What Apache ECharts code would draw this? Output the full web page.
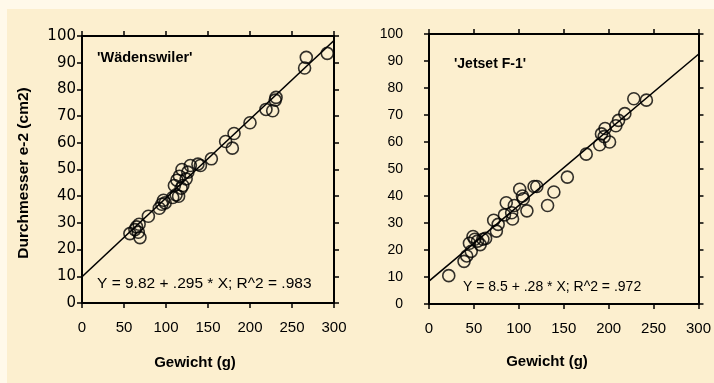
<!DOCTYPE html>
<html>
<head>
<meta charset="utf-8">
<script src="https://cdn.jsdelivr.net/npm/echarts@6/dist/echarts.min.js"></script>
<style>
html,body{margin:0;padding:0;background:#FFF9EA;}
#bg{position:absolute;left:7px;top:9px;width:707px;height:374px;background:#FCEFCF;}
#chart{position:absolute;left:0;top:0;width:714px;height:383px;}
</style>
</head>
<body>
<div id="bg"></div>
<div id="chart"></div>
<script>
// ---- Data ----
const xTicks = [0, 50, 100, 150, 200, 250, 300];
const yTicks = [0, 10, 20, 30, 40, 50, 60, 70, 80, 90, 100];

const wadenswilerGewicht = [57,63,65,68,67,69,79,92,95,97,99,108,112,115,110,113,116,118,120,119,124,126,129,138,141,154,171,179,181,200,219,227,230,231,265,267,292];
const wadenswilerDurchm  = [26,27.5,28.5,29.5,26.5,24.5,32.5,35.5,37,38.5,37.5,39.5,40.5,40,44,46,47.5,43,44,50,46.5,49,51.5,52,51.5,54,60.5,58,63.5,67.5,72.5,72,76,77,88,92,93.5];

const jetsetGewicht = [22,39,42,47,45,49,51,54,57,60,63,72,75,77,84,86,92,93,95,101,104,105,109,117,120,132,139,154,175,190,192,195,196,201,208,211,218,228,242];
const jetsetDurchm  = [10.5,15.8,17.8,19.5,22.5,25,24,23.3,22,24,24.3,31,27,29.5,33,37.5,33.8,31.5,36.5,42.5,40,39,34.5,43.5,43.5,36.5,41.5,47,55.5,59,63,62,65,60,66,68,70.5,76,75.5];

const wadenswilerFit = {a: 9.82, b: 0.295};
const jetsetFit = {a: 8.5, b: 0.28};

const fitRange = [0, 300];

// ---- Build ----
const pts = (xs, ys) => xs.map((x, i) => [x, ys[i]]);
const fitLine = f => fitRange.map(x => [x, f.a + f.b * x]);

const FONT = "'Liberation Sans', Arial, sans-serif";
const axisLine = {show: true, onZero: false, lineStyle: {color: '#000', width: 2}};
const axisTick = {show: true, length: 5, lineStyle: {color: '#000', width: 1.5}};

function xAx(grid, pos, labels) {
  return {
    type: 'value', gridIndex: grid, position: pos, min: xTicks[0], max: xTicks[xTicks.length - 1],
    interval: xTicks[1] - xTicks[0], axisLine, axisTick, splitLine: {show: false},
    axisLabel: {show: labels, margin: 17, color: '#000', fontSize: 15, fontFamily: FONT}
  };
}
function yAx(grid, pos, labels, margin, size, family) {
  return {
    type: 'value', gridIndex: grid, position: pos, min: yTicks[0], max: yTicks[yTicks.length - 1],
    interval: yTicks[1] - yTicks[0], axisLine, axisTick, splitLine: {show: false},
    axisLabel: {show: labels, margin: margin, color: '#000', fontSize: size || 14, fontFamily: family || FONT}
  };
}

const scatterStyle = {color: 'transparent', borderColor: '#000', borderWidth: 1.6};

const option = {
  backgroundColor: 'transparent',
  animation: false,
  grid: [
    {left: 82, top: 36, width: 252, height: 267},
    {left: 429, top: 34, width: 273, height: 270}
  ],
  xAxis: [xAx(0, 'bottom', true), xAx(0, 'top', false), xAx(1, 'bottom', true), xAx(1, 'top', false)],
  yAxis: [yAx(0, 'left', true, 6, 15, "'DejaVu Sans', sans-serif"), yAx(0, 'right', false, 6), yAx(1, 'left', true, 26, 14), yAx(1, 'right', false, 6)],
  series: [
    {type: 'line', xAxisIndex: 0, yAxisIndex: 0, data: fitLine(wadenswilerFit), symbol: 'none',
     lineStyle: {color: '#000', width: 1.6}, clip: true, z: 2},
    {type: 'scatter', xAxisIndex: 0, yAxisIndex: 0, data: pts(wadenswilerGewicht, wadenswilerDurchm),
     symbol: 'circle', symbolSize: 12, itemStyle: scatterStyle, z: 3},
    {type: 'line', xAxisIndex: 2, yAxisIndex: 2, data: fitLine(jetsetFit), symbol: 'none',
     lineStyle: {color: '#000', width: 1.6}, clip: true, z: 2},
    {type: 'scatter', xAxisIndex: 2, yAxisIndex: 2, data: pts(jetsetGewicht, jetsetDurchm),
     symbol: 'circle', symbolSize: 12, itemStyle: scatterStyle, z: 3}
  ],
  graphic: [
    {type: 'text', left: 97, top: 50, style: {text: "'Wädenswiler'", fill: '#000', font: "bold 14.5px " + FONT}},
    {type: 'text', left: 454, top: 57, style: {text: "'Jetset F-1'", fill: '#000', font: "bold 14px " + FONT}},
    {type: 'text', left: 97, top: 276, style: {text: 'Y = 9.82 + .295 * X; R^2 = .983', fill: '#000', font: "15.5px " + FONT}},
    {type: 'text', left: 463, top: 280, style: {text: 'Y = 8.5 + .28 * X; R^2 = .972', fill: '#000', font: "14px " + FONT}},
    {type: 'text', x: 195, y: 363, style: {text: 'Gewicht (g)', fill: '#000', font: "bold 15px " + FONT, align: 'center', verticalAlign: 'middle'}},
    {type: 'text', x: 547, y: 362, style: {text: 'Gewicht (g)', fill: '#000', font: "bold 15px " + FONT, align: 'center', verticalAlign: 'middle'}},
    {type: 'text', x: 24, y: 173, rotation: Math.PI / 2, style: {text: 'Durchmesser e-2 (cm2)', fill: '#000', font: "bold 15.5px " + FONT, align: 'center', verticalAlign: 'middle'}}
  ]
};

const chart = echarts.init(document.getElementById('chart'), null, {renderer: 'canvas'});
chart.setOption(option);
</script>
</body>
</html>
